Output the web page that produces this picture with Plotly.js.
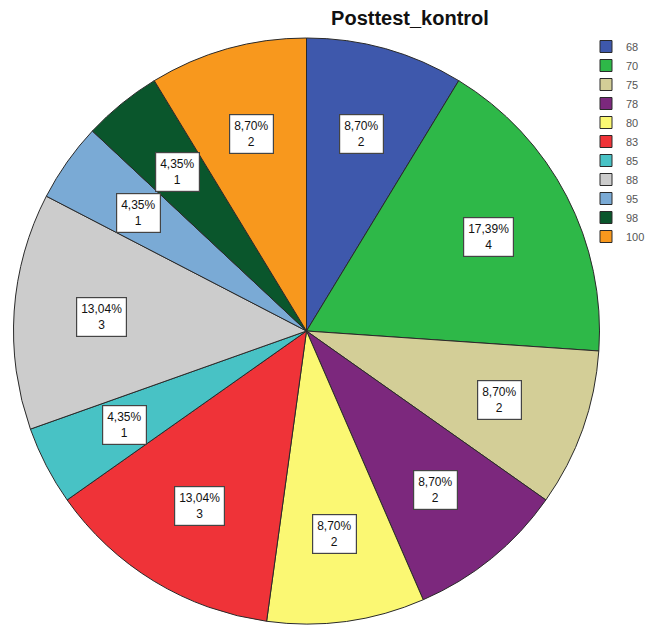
<!DOCTYPE html>
<html>
<head>
<meta charset="utf-8">
<script src="https://cdn.plot.ly/plotly-3.0.1.min.js"></script>
<style>html,body{margin:0;padding:0;background:#fff;}#chart{width:646px;height:625px;}</style>
</head>
<body>
<div id="chart"></div>
<script>
// Data
const categories = ['68', '70', '75', '78', '80', '83', '85', '88', '95', '98', '100'];
const counts = [2, 4, 2, 2, 2, 3, 1, 3, 1, 1, 2];
const sliceColors = ['#3E58AC', '#2EB848', '#D3CE97', '#7C287D', '#FBF873', '#EF3338', '#48C2C5', '#CCCCCC', '#7AAAD5', '#0A562C', '#F8981D'];
const chartTitle = 'Posttest_kontrol';

const W = 646, H = 625;
const cx = 306.5, cy = 331, R = 293;
const domX = [(cx - R) / W, (cx + R) / W];
const domY = [1 - (cy + R) / H, 1 - (cy - R) / H];

const total = counts.reduce((a, b) => a + b, 0);
const fmtPct = v => (v / total * 100).toFixed(2).replace('.', ',') + '%';

const trace = {
  type: 'pie',
  labels: categories,
  values: counts,
  sort: false,
  direction: 'clockwise',
  rotation: 0,
  textinfo: 'none',
  hoverinfo: 'label+value+percent',
  marker: { colors: sliceColors, line: { color: '#2a2a2a', width: 1 } },
  domain: { x: domX, y: domY }
};

// label boxes placed at mid-angle of each slice
const annotations = [];
let cum = 0;
counts.forEach((v, i) => {
  const mid = (cum + v / 2) / total * 2 * Math.PI;
  cum += v;
  const r = 0.7 * R;
  const px = cx + r * Math.sin(mid);
  const py = cy - r * Math.cos(mid);
  annotations.push({
    xref: 'paper', yref: 'paper',
    x: px / W, y: 1 - py / H,
    xanchor: 'center', yanchor: 'middle',
    text: fmtPct(v) + '<br>' + v,
    showarrow: false,
    bgcolor: '#ffffff',
    bordercolor: '#444444',
    borderwidth: 1.2,
    borderpad: 4,
    font: { family: 'Liberation Sans, Arial, sans-serif', size: 12, color: '#111' }
  });
});

const layout = {
  width: W, height: H,
  margin: { l: 0, r: 0, t: 0, b: 0, autoexpand: false },
  paper_bgcolor: '#ffffff',
  title: {
    text: '<b>' + chartTitle + '</b>',
    x: 410 / W, xanchor: 'center',
    y: 1 - 18 / H, yanchor: 'middle',
    font: { family: 'Liberation Sans, Arial, sans-serif', size: 20, color: '#111' }
  },
  showlegend: true,
  legend: {
    x: 586 / W, xanchor: 'left',
    y: 1 - 32 / H, yanchor: 'top',
    font: { family: 'Liberation Sans, Arial, sans-serif', size: 11, color: '#555' },
    bgcolor: 'rgba(0,0,0,0)',
    itemwidth: 30,
    tracegroupgap: 0
  },
  annotations: annotations
};

Plotly.newPlot('chart', [trace], layout, { displayModeBar: false, staticPlot: true });
</script>
</body>
</html>
